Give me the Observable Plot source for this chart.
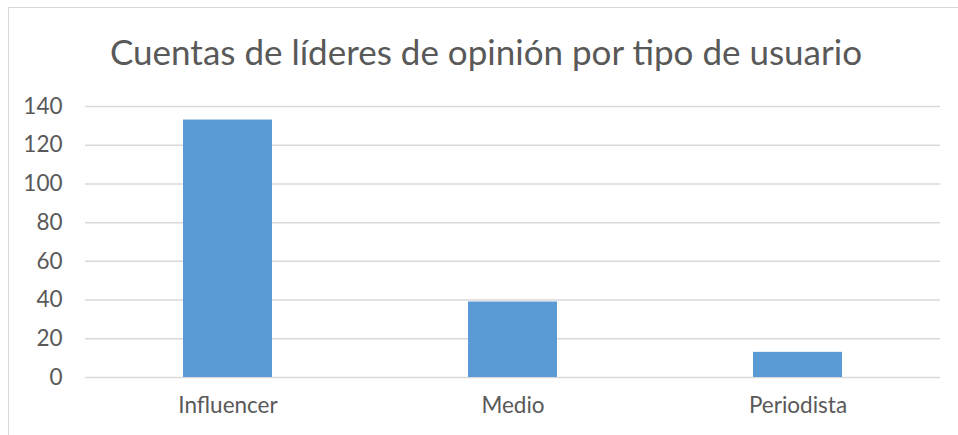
<!DOCTYPE html>
<html>
<head>
<meta charset="utf-8">
<script src="https://cdn.jsdelivr.net/npm/d3@7"></script>
<script src="https://cdn.jsdelivr.net/npm/@observablehq/plot@0.6"></script>
<style>
  html, body { margin: 0; padding: 0; background: #fff; overflow: hidden; }
  #wrap { position: relative; width: 958px; height: 435px; overflow: hidden; }
  #frame { position: absolute; left: 8px; top: 7px; width: 960px; height: 460px; border: 1px solid #d9d9d9; box-sizing: border-box; }
  #title { position: absolute; left: 0; top: 0; width: 958px; height: 90px; box-sizing: border-box; padding-left: 14px; text-align: center; font-family: Lato, sans-serif; font-size: 35px; line-height: 1; padding-top: 34px; color: #595959; }
  #chart { position: absolute; left: 0; top: 90px; }
</style>
</head>
<body>
<div id="wrap">
  <div id="frame"></div>
  <div id="title">Cuentas de líderes de opinión por tipo de usuario</div>
  <div id="chart"></div>
</div>
<script>
const categories = ["Influencer", "Medio", "Periodista"];
const counts = [133, 39, 13];
const yTicks = [0, 20, 40, 60, 80, 100, 120, 140];

const data = categories.map((c, i) => ({tipo: c, cuentas: counts[i]}));

const chart = Plot.plot({
  width: 958,
  height: 345,
  marginTop: 16,
  marginBottom: 58,
  marginLeft: 85,
  marginRight: 18,
  style: { fontFamily: "Lato, sans-serif", fontSize: "22.5px", color: "#595959", background: "transparent" },
  x: { domain: categories, paddingInner: 0.688, paddingOuter: 0.344, label: null },
  y: { domain: [0, 140], ticks: yTicks, label: null },
  marks: [
    Plot.gridY(yTicks, { stroke: "#d9d9d9", strokeOpacity: 1, strokeWidth: 1.5 }),
    Plot.barY(data, { x: "tipo", y: "cuentas", fill: "#5b9bd5" }),
    Plot.axisY(yTicks, { tickSize: 0, tickPadding: 23, label: null, fill: "#595959" }),
    Plot.axisX({ tickSize: 0, tickPadding: 20, label: null, fill: "#595959" })
  ]
});
document.getElementById("chart").appendChild(chart);
</script>
</body>
</html>
